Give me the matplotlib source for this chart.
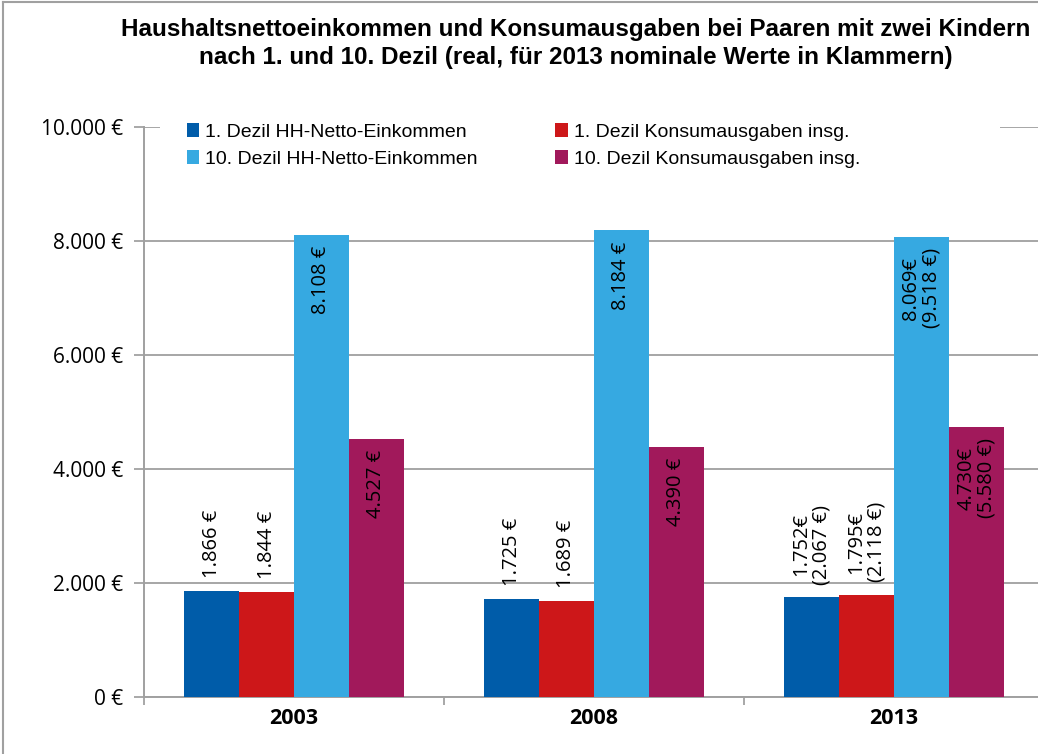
import matplotlib.pyplot as plt
import numpy as np
from matplotlib.lines import Line2D
from matplotlib.patches import Rectangle

years = ['2003', '2008', '2013']
series_names = ['1. Dezil HH-Netto-Einkommen', '1. Dezil Konsumausgaben insg.',
                '10. Dezil HH-Netto-Einkommen', '10. Dezil Konsumausgaben insg.']
ein_d1 = [1866, 1725, 1752]
kons_d1 = [1844, 1689, 1795]
ein_d10 = [8108, 8184, 8069]
kons_d10 = [4527, 4390, 4730]
# nominal values for 2013 (shown in brackets)
nominal_2013 = [2067, 2118, 9518, 5580]

colors = ['#005CA9', '#CD1719', '#36A9E1', '#A1195B']

text_font = 'Liberation Sans'
num_font = 'Open Sans'

def euro(v):
    return f'{v:,}'.replace(',', '.')

fig = plt.figure(figsize=(10.38, 7.54), dpi=100)
ax = fig.add_axes([0.1387, 0.0756, 0.867, 0.756])

x = np.arange(len(years))
w = 0.183
all_series = [ein_d1, kons_d1, ein_d10, kons_d10]
bars = []
for i, vals in enumerate(all_series):
    pos = x + (i - 1.5) * w
    b = ax.bar(pos, vals, width=w, color=colors[i], label=series_names[i], zorder=3)
    bars.append(b)
    for j, v in enumerate(vals):
        if years[j] == '2013':
            txt = f'{euro(v)}€\n({euro(nominal_2013[i])} €)'
        else:
            txt = f'{euro(v)} €'
        if i < 2:
            ax.annotate(txt, (pos[j], v), xytext=(0, 9), textcoords='offset points',
                        rotation=90, ha='center', va='bottom', fontsize=14.5,
                        family=num_font, linespacing=1.0, zorder=4)
        else:
            ax.annotate(txt, (pos[j], v), xytext=(0, -8), textcoords='offset points',
                        rotation=90, ha='center', va='top', fontsize=14.5,
                        family=num_font, linespacing=1.0, zorder=4)

ax.set_xlim(-0.5, 2.5)
ax.set_ylim(0, 10000)
ax.set_yticks(np.arange(0, 10001, 2000))
ax.set_yticklabels([euro(v) + ' €' for v in range(0, 10001, 2000)], family=num_font, fontsize=15)
ax.set_xticks(x)
ax.set_xticklabels(years, family=num_font, fontsize=15.5, fontweight='bold')
ax.set_xticks([-0.5, 0.5, 1.5, 2.5], minor=True)
ax.tick_params(axis='x', which='major', length=0, pad=8)
ax.tick_params(axis='x', which='minor', length=6, color='#999999', width=1.2)
ax.tick_params(axis='y', length=7, color='#999999', width=1.2, pad=8)
ax.grid(axis='y', color='#a6a6a6', linewidth=1.4, zorder=0)
ax.set_axisbelow(True)
for s in ['top', 'right']:
    ax.spines[s].set_visible(False)
for s in ['left', 'bottom']:
    ax.spines[s].set_color('#a0a0a0')
    ax.spines[s].set_linewidth(1.4)

# white area behind the legend hides the top grid line
ax.add_patch(Rectangle((0.0178, 0.93), 0.933, 0.1, transform=ax.transAxes,
                       facecolor='white', edgecolor='none', zorder=2, clip_on=False))

order = [0, 2, 1, 3]
leg = ax.legend([bars[k] for k in order], [series_names[k] for k in order],
                ncol=2, loc='upper left', bbox_to_anchor=(0.03, 1.035),
                frameon=False, handlelength=0.65, handleheight=0.8, handletextpad=0.3,
                columnspacing=4.0, labelspacing=0.45, borderpad=0.3,
                prop={'family': text_font, 'size': 14})
leg.set_zorder(5)

fig.text(0.555, 0.942, 'Haushaltsnettoeinkommen und Konsumausgaben bei Paaren mit zwei Kindern\n'
         'nach 1. und 10. Dezil (real, für 2013 nominale Werte in Klammern)',
         ha='center', va='center', fontsize=17.5, fontweight='bold', family=text_font,
         linespacing=1.3)

# outer chart frame
fig.add_artist(Line2D([0.003, 0.003], [0, 0.997], color='#a0a0a0', lw=1.5))
fig.add_artist(Line2D([0.003, 1], [0.997, 0.997], color='#a0a0a0', lw=1.5))

fig.savefig('out.png', dpi=100)
